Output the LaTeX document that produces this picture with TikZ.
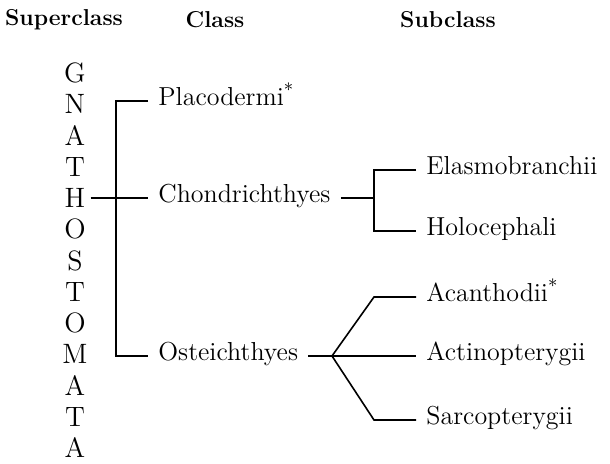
\documentclass[tikz,border=0pt]{standalone}
\usepackage{tikz}
\usetikzlibrary{positioning}

\begin{document}
\begin{tikzpicture}[
  x=0.5pt,y=-0.5pt,
  font=\fontsize{13}{15}\selectfont,
  head/.style={font=\fontsize{11.5}{13}\selectfont\bfseries,inner sep=0pt},
  letter/.style={font=\fontsize{14}{16}\selectfont,inner xsep=2.5pt,inner ysep=0pt},
  taxon/.style={inner xsep=5pt,inner ysep=1pt,anchor=mid west},
  link/.style={line width=0.8pt}
]
\useasboundingbox (0,0) rectangle (610,464);

% headings
\node[head] (hsup) at (64,20)  {Superclass};
\node[head] (hcls) at (215,20) {Class};
\node[head] (hsub) at (448,20) {Subclass};

% superclass, one letter per line
\foreach \ch [count=\i] in {G,N,A,T,H,O,S,T,O,M,A,T,A}
  \node[letter] (l\i) at (75,{73+31.25*(\i-1)}) {\ch};

% classes
\node[taxon] (plac) at (148,101) {Placodermi\textsuperscript{*}};
\node[taxon] (chon) at (148,198) {Chondrichthyes};
\node[taxon] (oste) at (148,356) {Osteichthyes};

% subclasses
\node[taxon] (elas) at (416,170) {Elasmobranchii};
\node[taxon] (holo) at (416,231) {Holocephali};
\node[taxon] (acan) at (416,297) {Acanthodii\textsuperscript{*}};
\node[taxon] (acti) at (416,356) {Actinopterygii};
\node[taxon] (sarc) at (416,420) {Sarcopterygii};

\coordinate (trunk) at (116,198);
\coordinate (cfork) at (374,198);
\coordinate (ofork) at (332,356);

% superclass -> classes
\draw[link] (l5.east) -- (chon.mid west);
\draw[link] (plac.mid west) -- (plac.mid west -| trunk) -- (oste.mid west -| trunk) -- (oste.mid west);

% chondrichthyes
\draw[link] (chon.mid east) -- (cfork);
\draw[link] (elas.mid west) -- (elas.mid west -| cfork) -- (holo.mid west -| cfork) -- (holo.mid west);

% osteichthyes
\draw[link] (oste.mid east) -- (ofork) -- (acti.mid west);
\draw[link] (acan.mid west) -- (acan.mid west -| cfork) -- (ofork) -- (sarc.mid west -| cfork) -- (sarc.mid west);
\end{tikzpicture}
\end{document}
